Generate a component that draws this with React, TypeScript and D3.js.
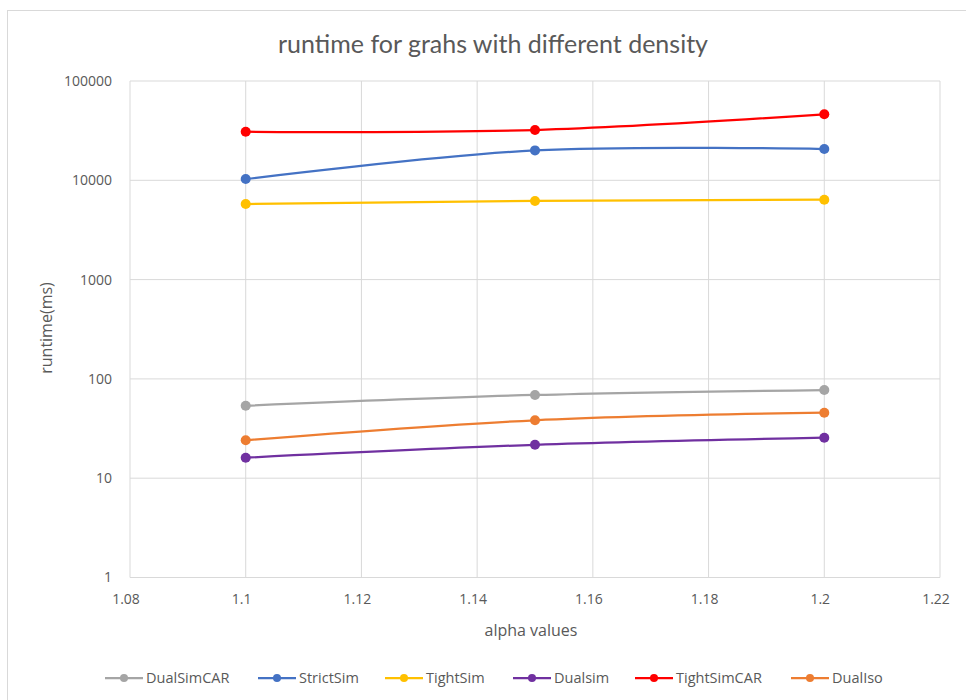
import React from "react";
import * as d3 from "d3";

const alphaValues = [1.1, 1.15, 1.2];
const seriesNames = ["DualSimCAR", "StrictSim", "TightSim", "Dualsim", "TightSimCAR", "DualIso"];
const seriesLabels = ["DualSimCAR", "StrictSim", "TightSim", "Dualsim", "TightSimCAR", "DualIso"];
const dualSimCAR = [53.7, 68.9, 77.3];
const strictSim = [10300, 20000, 20650];
const tightSim = [5770, 6190, 6380];
const dualsim = [16.1, 21.7, 25.6];
const tightSimCAR = [30850, 32100, 46200];
const dualIso = [24.1, 38.3, 45.7];
const seriesColors = ["#A5A5A5", "#4472C4", "#FFC000", "#7030A0", "#FF0000", "#ED7D31"];
const xTicks = [1.08, 1.1, 1.12, 1.14, 1.16, 1.18, 1.2, 1.22];
const yTicks = [1, 10, 100, 1000, 10000, 100000];
const title = "runtime for grahs with different density";
const xTitle = "alpha values";
const yTitle = "runtime(ms)";

const seriesValues = [dualSimCAR, strictSim, tightSim, dualsim, tightSimCAR, dualIso];

export default function App() {
  const W = 966, H = 700;
  const left = 130, right = 940, top = 81, bottom = 577.5;
  const x = d3.scaleLinear().domain([1.08, 1.22]).range([left, right]);
  const y = d3.scaleLog().domain([1, 100000]).range([bottom, top]);
  const line = d3
    .line<[number, number]>()
    .x((d) => x(d[0]))
    .y((d) => y(d[1]))
    .curve(d3.curveCardinal.tension(0));
  const textColor = "#595959";
  const font = "'Open Sans', sans-serif";
  const legendX = [105, 258, 385, 513, 635, 791];
  const legendY = 678;

  return (
    <svg
      width={W}
      height={H}
      style={{ position: "absolute", left: 0, top: 0, background: "#fff" }}
    >
      <rect x={7.5} y={10.5} width={W} height={H} fill="#fff" stroke="#D9D9D9" strokeWidth={1} />
      <text
        x={493}
        y={53}
        textAnchor="middle"
        fontFamily="Lato, sans-serif"
        fontSize={25}
        fill={textColor}
      >
        {title}
      </text>
      {yTicks.map((t) => (
        <g key={"y" + t}>
          <line x1={left} x2={right} y1={y(t)} y2={y(t)} stroke="#D9D9D9" strokeWidth={1} />
          <text
            x={112}
            y={y(t)}
            dy="0.35em"
            textAnchor="end"
            fontFamily={font}
            fontSize={14}
            fill={textColor}
          >
            {t}
          </text>
        </g>
      ))}
      {xTicks.map((t) => (
        <g key={"x" + t}>
          <line x1={x(t)} x2={x(t)} y1={top} y2={bottom} stroke="#D9D9D9" strokeWidth={1} />
          <text
            x={x(t) - 4}
            y={599}
            dy="0.35em"
            textAnchor="middle"
            fontFamily={font}
            fontSize={14}
            fill={textColor}
          >
            {d3.format("")(t)}
          </text>
        </g>
      ))}
      <text
        x={531}
        y={630}
        dy="0.35em"
        textAnchor="middle"
        fontFamily={font}
        fontSize={16}
        fill={textColor}
      >
        {xTitle}
      </text>
      <text
        transform={`translate(46,328) rotate(-90)`}
        dy="0.35em"
        textAnchor="middle"
        fontFamily={font}
        fontSize={16}
        fill={textColor}
      >
        {yTitle}
      </text>
      {seriesNames.map((name, i) => {
        const pts: [number, number][] = alphaValues.map((a, j) => [a, seriesValues[i][j]]);
        return (
          <g key={name}>
            <path d={line(pts) || ""} fill="none" stroke={seriesColors[i]} strokeWidth={2.25} />
            {pts.map((p, j) => (
              <circle key={j} cx={x(p[0])} cy={y(p[1])} r={5} fill={seriesColors[i]} />
            ))}
          </g>
        );
      })}
      {seriesNames.map((name, i) => (
        <g key={"lg" + name} transform={`translate(${legendX[i]},${legendY})`}>
          <line x1={0} x2={38} y1={0} y2={0} stroke={seriesColors[i]} strokeWidth={2.25} />
          <circle cx={19} cy={0} r={4} fill={seriesColors[i]} />
          <text
            x={41}
            y={0}
            dy="0.35em"
            fontFamily={font}
            fontSize={14.5}
            fill={textColor}
          >
            {seriesLabels[i]}
          </text>
        </g>
      ))}
    </svg>
  );
}
